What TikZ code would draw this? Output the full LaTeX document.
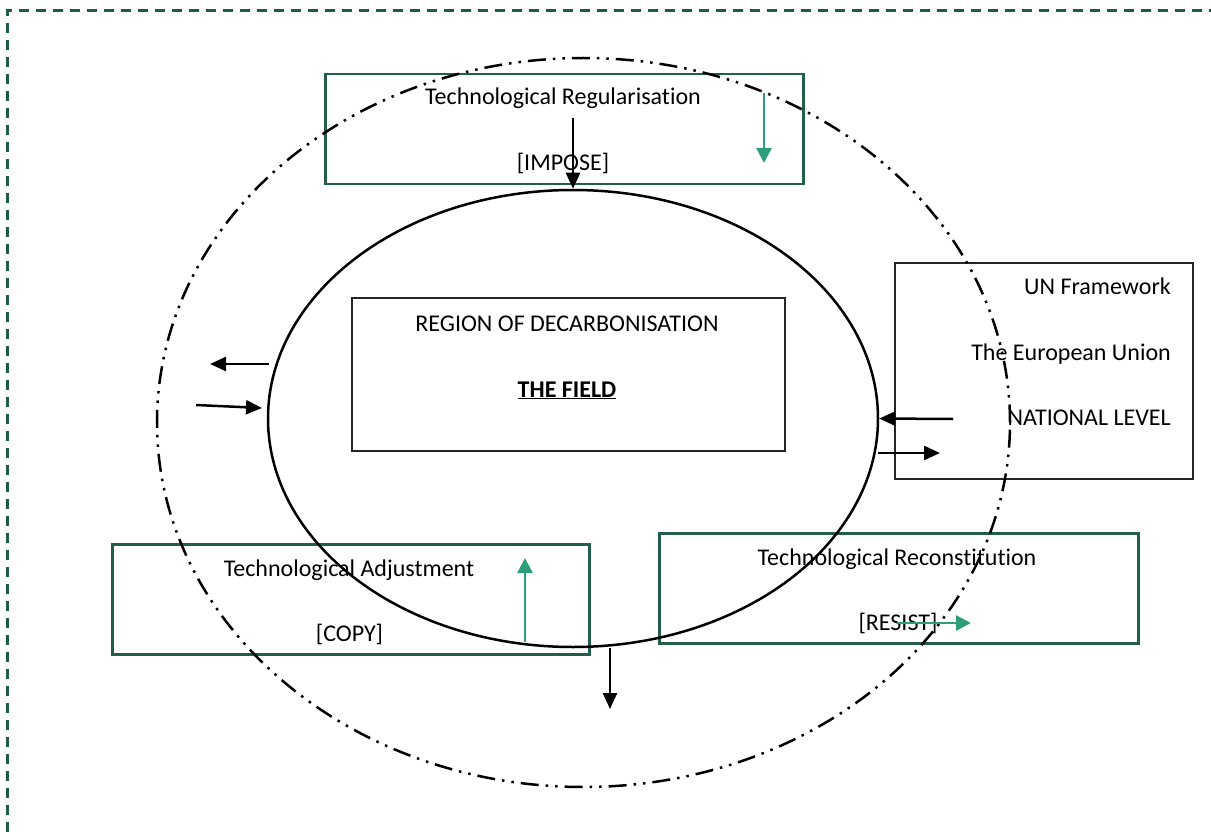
\documentclass[tikz,border=0pt]{standalone}
\usepackage{fontspec}
\setmainfont{Carlito}[Ligatures={NoCommon,NoRare}]
\usetikzlibrary{arrows.meta,shapes.geometric}
\definecolor{framegreen}{HTML}{1F5B48}
\definecolor{boxgreen}{HTML}{215E4B}
\definecolor{arrowgreen}{HTML}{2E9E7A}

\begin{document}
\begin{tikzpicture}[x=1pt,y=-1pt,
  txt/.style={font=\fontsize{24}{28}\selectfont, inner sep=0pt},
  greenbox/.style={draw=boxgreen, line width=2.5pt, anchor=north west, inner sep=0pt},
  blackbox/.style={draw=black!85, line width=2.2pt, anchor=north west, inner sep=0pt},
  blackarrow/.style={line width=2.5pt, -{Triangle[length=16pt,width=14pt]}},
  greenarrow/.style={draw=arrowgreen, line width=2.5pt, -{Triangle[length=15pt,width=15pt]}, arrowgreen},
  ring/.style={draw, ellipse, inner sep=0pt},
]
\useasboundingbox (0,0) rectangle (1211,832);

% dashed frame, running off the page to the right and bottom
\draw[framegreen, line width=3pt, dash pattern=on 10pt off 7pt]
  (7,832) -- (7,11) -- (1211,11);

% boxes
\node[greenbox, minimum width=478, minimum height=110] (regbox) at (324,73) {};
\node[blackbox, minimum width=433, minimum height=153] (fieldbox) at (351,297) {};
\node[blackbox, minimum width=298, minimum height=216] (levelbox) at (894,262) {};
\node[greenbox, minimum width=477, minimum height=110] (adjbox) at (111,543) {};
\node[greenbox, minimum width=479, minimum height=110] (recbox) at (658,532) {};

% the two rings
\node[ring, line width=2.5pt, minimum width=610, minimum height=457] (field) at (573,418.5) {};
\node[ring, line width=2.5pt, minimum width=853, minimum height=729,
      dash pattern=on 18pt off 7pt on 2.5pt off 7pt on 2.5pt off 7pt] (outer) at (583.5,422.5) {};

% texts
\node[txt, anchor=base] (regt) at (563,105) {Technological Regularisation};
\node[txt, anchor=base] (impose) at (563,171) {[IMPOSE]};
\node[txt, anchor=base] (region) at (567,331) {REGION OF DECARBONISATION};
\node[txt, anchor=base] (thefield) at (567,397) {\underline{\textbf{THE FIELD}}};
\node[txt, anchor=base east] (un) at (1171,294) {UN Framework};
\node[txt, anchor=base east] (eu) at (1171,360) {The European Union};
\node[txt, anchor=base east] (nat) at (1171,425) {NATIONAL LEVEL};
\node[txt, anchor=base] (adjt) at (349,576) {Technological Adjustment};
\node[txt, anchor=base] (copy) at (349.5,641) {[COPY]};
\node[txt, anchor=base] (rect) at (897,565) {Technological Reconstitution};
\node[txt, anchor=base] (resist) at (898,630) {[RESIST]};

% arrow end points
\coordinate (impS) at (573,118);
\coordinate (lOutE) at (210,364);
\coordinate (lOutS) at (269,364);
\coordinate (lInS) at (196,405);
\coordinate (lInE) at (262,408);
\coordinate (rInS) at (953,419);
\coordinate (rOutS) at (878,453);
\coordinate (rOutE) at (940,453);
\coordinate (botS) at (610,648);
\coordinate (botE) at (610,709);
\coordinate (gTopS) at (764,93);
\coordinate (gTopE) at (764,163);
\coordinate (gAdjS) at (525,642);
\coordinate (gAdjE) at (525,558);
\coordinate (gResS) at (897,623);
\coordinate (gResE) at (971,623);

% black arrows
\draw[blackarrow] (impS) -- (field.north);
\draw[blackarrow] (lOutS) -- (lOutE);
\draw[blackarrow] (lInS) -- (lInE);
\draw[blackarrow] (rInS) -- (field.east);
\draw[blackarrow] (rOutS) -- (rOutE);
\draw[blackarrow] (botS) -- (botE);

% green arrows
\draw[greenarrow] (gTopS) -- (gTopE);
\draw[greenarrow] (gAdjS) -- (gAdjE);
\draw[greenarrow] (gResS) -- (gResE);
\end{tikzpicture}
\end{document}
